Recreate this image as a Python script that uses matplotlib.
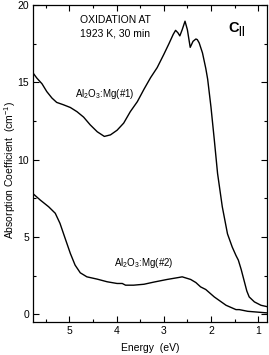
import matplotlib
matplotlib.use('Agg')
import matplotlib.pyplot as plt
from matplotlib.ticker import MultipleLocator

plt.rcParams['font.family'] = ['Liberation Sans', 'DejaVu Sans']
plt.rcParams['mathtext.fontset'] = 'custom'
plt.rcParams['mathtext.rm'] = 'Liberation Sans'
plt.rcParams['mathtext.bf'] = 'Liberation Sans:bold'

# Sample #1 absorption spectrum (energy in eV, coefficient in cm^-1)
e1 = [5.78, 5.69, 5.58, 5.48, 5.37, 5.27, 5.13, 4.98, 4.84, 4.70, 4.56, 4.41,
      4.26, 4.13, 3.99, 3.85, 3.71, 3.56, 3.42, 3.28, 3.14, 3.00, 2.89, 2.80,
      2.75, 2.70, 2.66, 2.61, 2.55, 2.50, 2.44, 2.38, 2.32, 2.29, 2.25, 2.18,
      2.11, 2.07, 2.00, 1.93, 1.86, 1.76, 1.65, 1.55, 1.47, 1.42, 1.36, 1.30,
      1.24, 1.19, 1.08, 0.94, 0.78]
a1 = [15.64, 15.27, 14.9, 14.4, 13.98, 13.7, 13.55, 13.37, 13.1, 12.75, 12.25, 11.8,
      11.5, 11.6, 11.9, 12.36, 13.1, 13.75, 14.55, 15.3, 15.95, 16.8, 17.5, 18.1,
      18.36, 18.2, 18.0, 18.4, 18.95, 18.4, 17.26, 17.65, 17.8, 17.76, 17.55, 16.9,
      15.9, 15.2, 13.4, 11.3, 9.1, 6.95, 5.2, 4.35, 3.8, 3.5, 2.9, 2.2,
      1.5, 1.12, 0.8, 0.58, 0.47]

# Sample #2 absorption spectrum
e2 = [5.78, 5.62, 5.44, 5.30, 5.20, 5.09, 4.98, 4.88, 4.77, 4.63, 4.41, 4.20,
      3.99, 3.88, 3.81, 3.64, 3.42, 3.21, 2.93, 2.68, 2.61, 2.43, 2.32, 2.22,
      2.11, 1.93, 1.68, 1.47, 1.40, 1.22, 0.98, 0.78]
a2 = [7.82, 7.39, 6.95, 6.53, 5.88, 4.9, 3.93, 3.18, 2.68, 2.42, 2.27, 2.1,
      1.99, 1.99, 1.88, 1.88, 1.94, 2.08, 2.25, 2.38, 2.42, 2.25, 2.05, 1.77,
      1.6, 1.12, 0.58, 0.3, 0.3, 0.19, 0.13, 0.08]

fig = plt.figure(figsize=(2.69, 3.55), dpi=100)
ax = fig.add_axes([0.123, 0.093, 0.870, 0.893])

ax.plot(e1, a1, color='black', lw=1.0)
ax.plot(e2, a2, color='black', lw=1.0)

ax.set_xlim(5.77, 0.81)
ax.set_ylim(-0.5, 20)
ax.xaxis.set_major_locator(MultipleLocator(1))
ax.xaxis.set_minor_locator(MultipleLocator(0.5))
ax.yaxis.set_major_locator(MultipleLocator(5))
ax.yaxis.set_minor_locator(MultipleLocator(2.5))
ax.tick_params(which='both', direction='in', top=True, right=True, labelsize=7.5, width=0.8)
ax.tick_params(which='major', length=4, pad=3)
ax.tick_params(which='minor', length=2.5)
for s in ax.spines.values():
    s.set_linewidth(0.9)

ax.set_xlabel('Energy  (eV)', fontsize=7.5, labelpad=5)
ax.set_ylabel(r'Absorption Coefficient  (cm$^{-1}$)', fontsize=7.5)
ax.yaxis.set_label_coords(-0.065, 0.48)

ax.text(4.03, 19.0, 'OXIDATION AT', ha='center', va='center', fontsize=7.5)
ax.text(4.03, 18.15, '1923 K, 30 min', ha='center', va='center', fontsize=7.5)
ax.text(1.45, 18.4, r'$\mathbf{C}_{\mathbf{||}}$', ha='center', va='center', fontsize=10.5)
ax.text(4.24, 14.26, r'Al$_2$O$_3$:Mg(#1)', ha='center', va='center', fontsize=7)
ax.text(3.43, 3.3, r'Al$_2$O$_3$:Mg(#2)', ha='center', va='center', fontsize=7)

fig.savefig('out.png', dpi=100)
